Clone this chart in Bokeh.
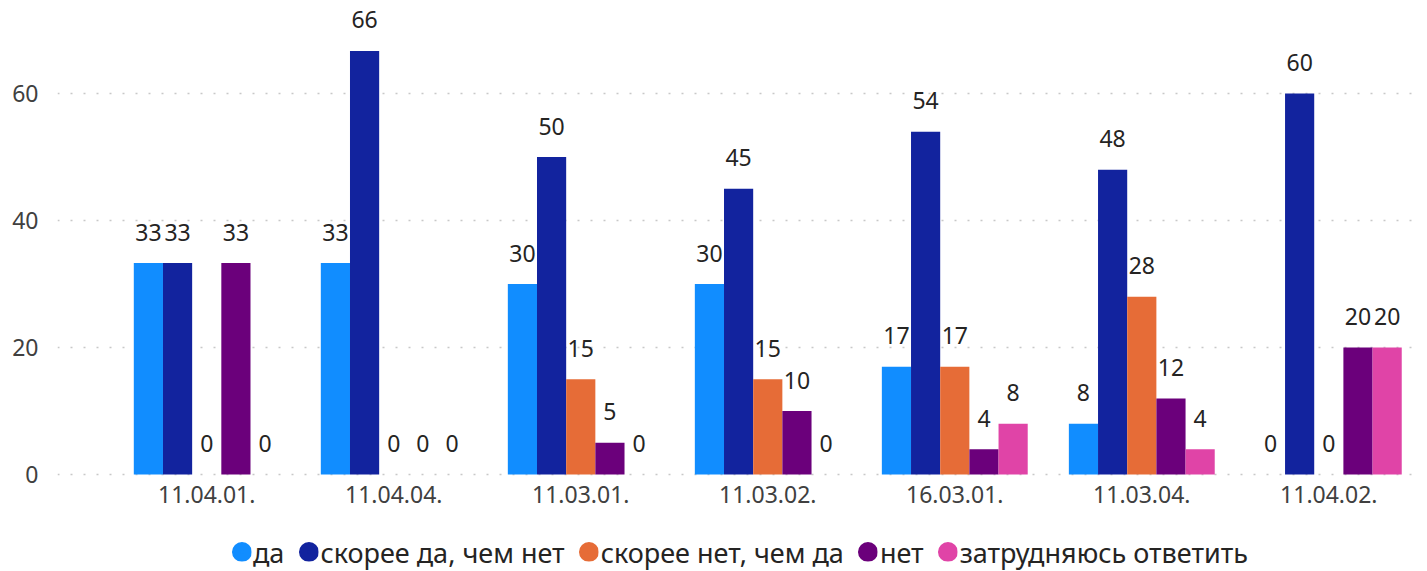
from bokeh.plotting import figure
from bokeh.layouts import column
from bokeh.models import ColumnDataSource, Range1d, FixedTicker, Legend, LegendItem
from bokeh.transform import dodge
from bokeh.core.properties import value
from bokeh.embed import file_html
from bokeh.resources import INLINE

# ---- data ----
categories = ["11.04.01.", "11.04.04.", "11.03.01.", "11.03.02.", "16.03.01.", "11.03.04.", "11.04.02."]
series_names = ["да", "скорее да, чем нет", "скорее нет, чем да", "нет", "затрудняюсь ответить"]
da = [33.3, 33.3, 30, 30, 17, 8, 0]
skoree_da = [33.3, 66.7, 50, 45, 54, 48, 60]
skoree_net = [0, 0, 15, 15, 17, 28, 0]
net = [33.3, 0, 5, 10, 4, 12, 20]
zatrudnyayus = [0, 0, 0, 0, 8, 4, 20]
y_ticks = [0, 20, 40, 60]

colors = ["#118DFF", "#12239E", "#E66C37", "#6B007B", "#E044A7"]
FONT = "Noto Sans"
FS = "23px"
LEG_FS = "27px"

series = [da, skoree_da, skoree_net, net, zatrudnyayus]
keys = ["s0", "s1", "s2", "s3", "s4"]
data = {"idx": list(range(len(categories)))}
for k, vals in zip(keys, series):
    data[k] = vals
    data[k + "_lbl"] = [str(int(v)) for v in vals]
source = ColumnDataSource(data)

x_range = Range1d(-0.798, 6.501)
p = figure(width=1427, height=520, output_backend="svg", toolbar_location=None,
           x_range=x_range, y_range=Range1d(-0.3, 74.65),
           min_border_left=57, min_border_right=5, min_border_top=0, min_border_bottom=44)
p.outline_line_color = None

bw = 0.156
for i, (k, col) in enumerate(zip(keys, colors)):
    off = (i - 2) * bw
    p.vbar(x=dodge("idx", off), top=k, bottom=0, width=bw, source=source,
           fill_color=col, line_color=None)
    p.text(x=dodge("idx", off), y=k, text=k + "_lbl", source=source,
           text_align="center", text_baseline="alphabetic", y_offset=-31,
           text_font=value(FONT), text_font_size=FS, text_color="#252423")

# axes
p.xaxis.ticker = FixedTicker(ticks=data["idx"])
p.xaxis.major_label_overrides = {i: c for i, c in enumerate(categories)}
p.yaxis.ticker = FixedTicker(ticks=y_ticks)
for ax in (p.xaxis, p.yaxis):
    ax.axis_line_color = None
    ax.major_tick_line_color = None
    ax.minor_tick_line_color = None
    ax.major_label_text_font = FONT
    ax.major_label_text_font_size = FS
    ax.major_label_text_color = "#404040"
p.xaxis.major_label_standoff = 3
p.yaxis.major_label_standoff = 13

p.xgrid.grid_line_color = None
p.ygrid.ticker = FixedTicker(ticks=y_ticks)
p.ygrid.grid_line_color = "#C8C8C8"
p.ygrid.grid_line_dash = "2 11"
p.ygrid.grid_line_width = 1.5

# ---- legend strip ----
pl = figure(width=1427, height=51, output_backend="svg", toolbar_location=None,
            x_range=x_range, y_range=Range1d(0, 80),
            x_axis_type=None, y_axis_type=None,
            min_border_left=57, min_border_right=5, min_border_top=12, min_border_bottom=0)
pl.outline_line_color = None
pl.grid.visible = False
items = []
for k, name, col in zip(keys, series_names, colors):
    r = pl.scatter(x="idx", y=k, source=source, marker="circle", size=8,
                   fill_color=col, line_color=col, line_width=12)
    r.visible = False
    items.append(LegendItem(label=name, renderers=[r]))
legend = Legend(items=items, orientation="horizontal", location="center",
                margin=0, padding=0, spacing=14, label_standoff=2,
                glyph_width=20, glyph_height=20,
                label_text_font=FONT, label_text_font_size=LEG_FS,
                label_text_color="#252423",
                border_line_color=None, background_fill_alpha=0)
pl.add_layout(legend, "center")

layout = column(p, pl, spacing=0)
open("out.html", "w").write(file_html(layout, INLINE))
